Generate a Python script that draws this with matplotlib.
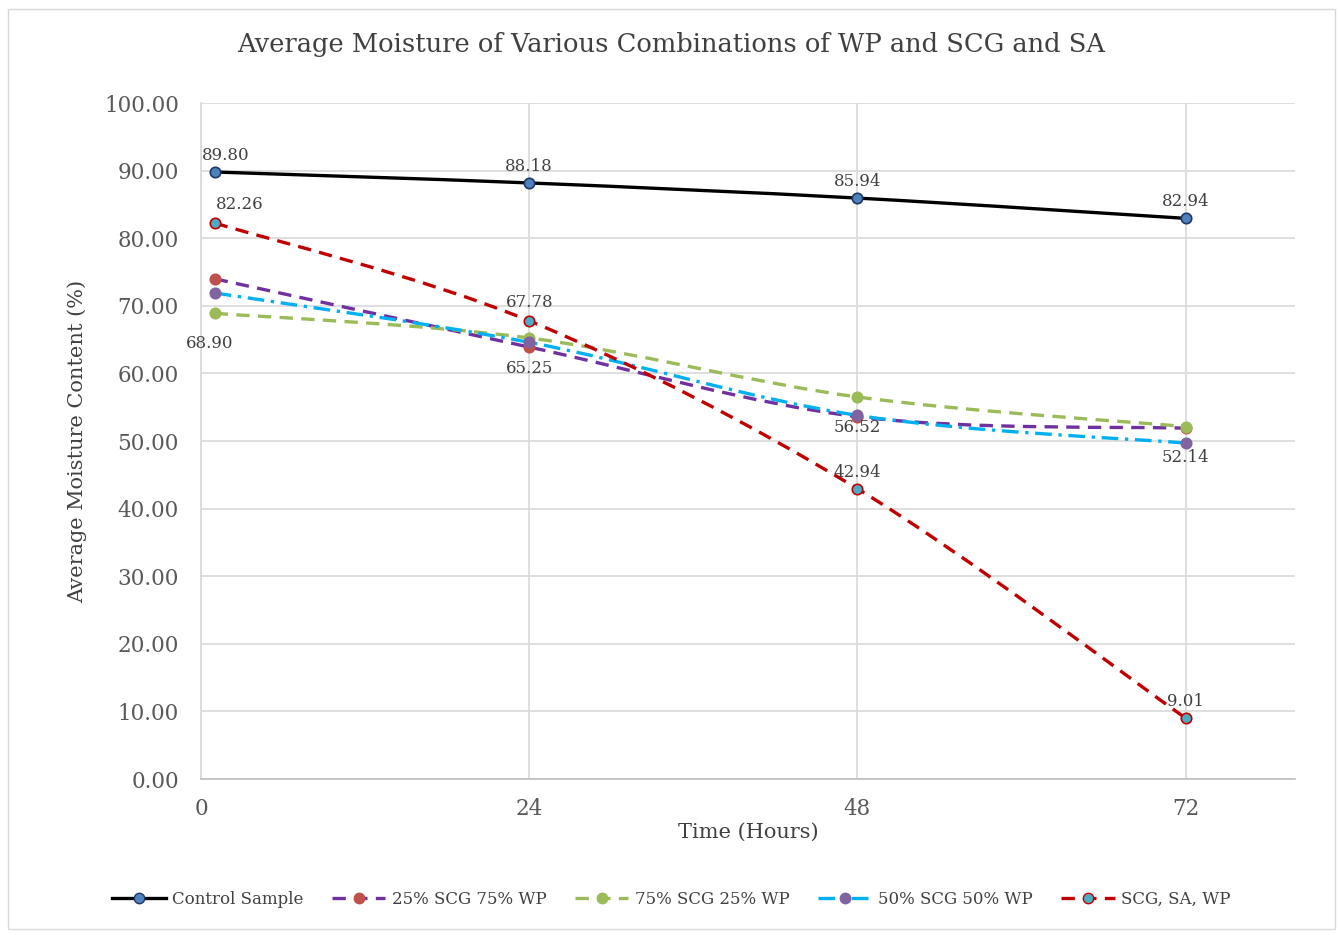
#!/usr/bin/env python3
"""Average moisture of WP / SCG / SA combinations over time."""

import matplotlib
matplotlib.use("Agg")
import matplotlib.pyplot as plt
import numpy as np
from matplotlib.lines import Line2D
from matplotlib.patches import PathPatch, Rectangle
from matplotlib.path import Path

hours = [1, 24, 48, 72]
control = [89.80, 88.18, 85.94, 82.94]
scg25_wp75 = [74.0, 63.9, 53.6, 51.9]
scg75_wp25 = [68.90, 65.25, 56.52, 52.14]
scg50_wp50 = [71.9, 64.6, 53.8, 49.7]
scg_sa_wp = [82.26, 67.78, 42.94, 9.01]

series = [
    ("Control Sample", control, "black", "-", "#4f81bd", "#1f3864"),
    ("25% SCG 75% WP", scg25_wp75, "#7030a0", (0, (4, 2.5)), "#c0504d", "#c0504d"),
    ("75% SCG 25% WP", scg75_wp25, "#9bbb59", (0, (4, 2.5)), "#9bbb59", "#9bbb59"),
    ("50% SCG 50% WP", scg50_wp50, "#00b0f0", (0, (5, 2, 1, 2)), "#8064a2", "#8064a2"),
    ("SCG, SA, WP", scg_sa_wp, "#c00000", (0, (4, 2.5)), "#4bacc6", "#c00000"),
]

# (series index, point index, offset in points)
labels = [
    (0, 0, (8, 12)), (0, 1, (0, 12)), (0, 2, (0, 12)), (0, 3, (0, 12)),
    (4, 0, (18, 13)), (4, 1, (0, 13)), (4, 2, (0, 12)), (4, 3, (0, 12)),
    (2, 0, (-4, -22)), (2, 1, (0, -22)), (2, 2, (0, -22)), (2, 3, (0, -22)),
]

FONT = "DejaVu Serif"


def smooth_path(xs, ys):
    # Catmull-Rom style bezier, like a spreadsheet "smoothed line"
    pts = np.column_stack([xs, ys]).astype(float)
    verts = [pts[0]]
    codes = [Path.MOVETO]
    n = len(pts)
    for i in range(n - 1):
        p0 = pts[i - 1] if i > 0 else pts[i]
        p1, p2 = pts[i], pts[i + 1]
        p3 = pts[i + 2] if i + 2 < n else pts[i + 1]
        c1 = p1 + (p2 - p0) / 6.0
        c2 = p2 - (p3 - p1) / 6.0
        verts += [c1, c2, p2]
        codes += [Path.CURVE4] * 3
    return Path(verts, codes)


fig = plt.figure(figsize=(13.43, 9.35), dpi=100)
ax = fig.add_axes([0.1497, 0.1668, 0.8146, 0.7230])

for name, ys, lc, ls, mfc, mec in series:
    patch = PathPatch(smooth_path(hours, ys), facecolor="none", edgecolor=lc,
                      linewidth=2.4, linestyle=ls, zorder=3)
    ax.add_patch(patch)
    ax.plot(hours, ys, linestyle="none", marker="o", markersize=7.5,
            markerfacecolor=mfc, markeredgecolor=mec, markeredgewidth=1.2, zorder=4)

for si, pi, off in labels:
    ys = series[si][1]
    ax.annotate(f"{ys[pi]:.2f}", (hours[pi], ys[pi]), textcoords="offset points",
                xytext=off, ha="center", va="center", fontsize=12,
                color="#404040", family=FONT, zorder=5)

ax.set_xlim(0, 80)
ax.set_ylim(0, 100)
ax.set_xticks([0, 24, 48, 72])
ax.set_yticks(np.arange(0, 101, 10))
ax.yaxis.set_major_formatter(matplotlib.ticker.FormatStrFormatter("%.2f"))
ax.tick_params(length=0, labelsize=15.5, labelcolor="#595959")
ax.tick_params(axis="y", pad=16)
ax.tick_params(axis="x", pad=14)
for lab in ax.get_xticklabels() + ax.get_yticklabels():
    lab.set_family(FONT)
ax.grid(True, color="#d9d9d9", linewidth=1.2)
ax.set_axisbelow(True)
for side in ["top", "right"]:
    ax.spines[side].set_visible(False)
ax.spines["left"].set_color("#d9d9d9")
ax.spines["bottom"].set_color("#bfbfbf")
ax.spines["left"].set_linewidth(1.2)
ax.spines["bottom"].set_linewidth(1.2)

ax.set_xlabel("Time (Hours)", fontsize=15, color="#404040", family=FONT, labelpad=2)
ax.set_ylabel("Average Moisture Content (%)", fontsize=15, color="#404040",
              family=FONT, labelpad=12)
fig.text(0.5, 0.952, "Average Moisture of Various Combinations of WP and SCG and SA",
         ha="center", va="center", fontsize=18.5, color="#404040", family=FONT)

handles = [
    Line2D([0], [0], color=lc, linestyle=ls, linewidth=2.4, marker="o", markersize=7.5,
           markerfacecolor=mfc, markeredgecolor=mec)
    for _, _, lc, ls, mfc, mec in series
]
fig.legend(handles, [s[0] for s in series], loc="center", bbox_to_anchor=(0.5, 0.038),
           ncol=5, frameon=False, handlelength=3.2, columnspacing=1.7, handletextpad=0.4,
           prop={"family": FONT, "size": 12}, labelcolor="#404040")

fig.add_artist(Rectangle((0.006, 0.006), 0.988, 0.984, transform=fig.transFigure,
                         fill=False, edgecolor="#d9d9d9", linewidth=1))

fig.savefig("out.png", dpi=100)
